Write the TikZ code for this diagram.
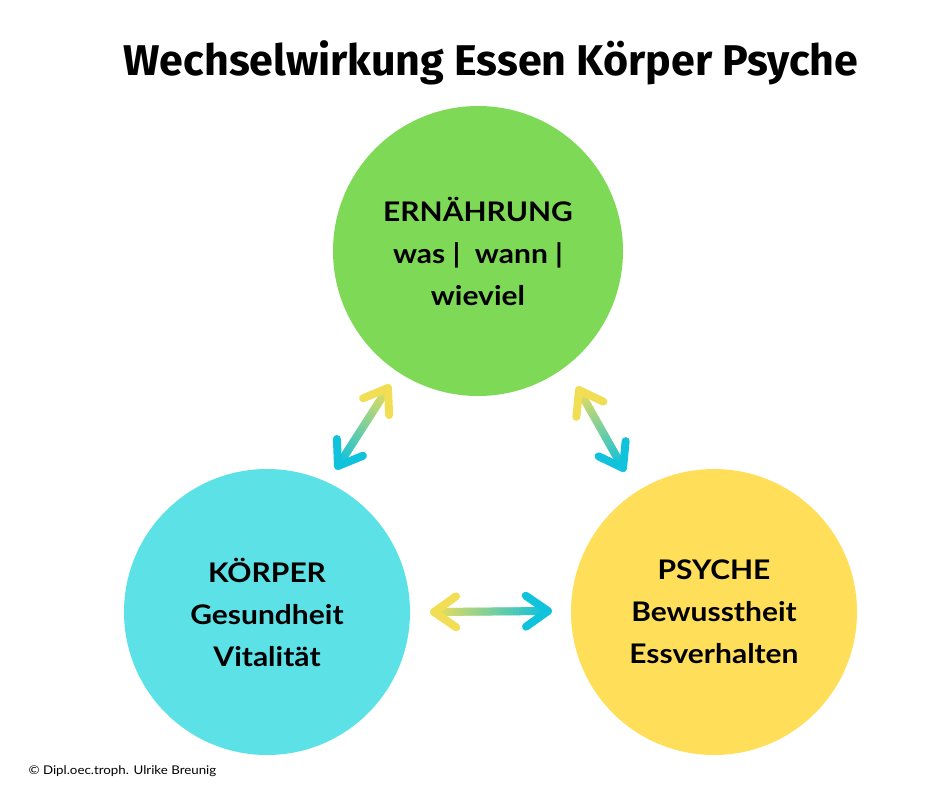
\documentclass[tikz,border=0pt]{standalone}
\usepackage{fontspec}
\setmainfont{Lato}[FakeStretch=1.11]
\newfontfamily\titlefont{Fira Sans}
\usetikzlibrary{calc}
\definecolor{ergreen}{HTML}{7ED957}
\definecolor{kocyan}{HTML}{5CE1E6}
\definecolor{psyellow}{HTML}{FFDE59}
\definecolor{arryellow}{HTML}{F2DE55}
\definecolor{arrcyan}{HTML}{10C2DC}

% gradient double arrow: #1 = yellow end, #2 = cyan end
\newcommand{\gradarrow}[2]{%
  \foreach \i in {0,...,39}{%
    \pgfmathtruncatemacro\p{100*\i/39}
    \draw[arrline, draw=arrcyan!\p!arryellow]
      ($(#1)!\i/40!(#2)$) -- ($(#1)!\i/40+1/40!(#2)$);
  }
  \draw[arrline, draw=arryellow] ($(#1)!27pt!35:(#2)$) -- (#1) -- ($(#1)!27pt!-35:(#2)$);
  \draw[arrline, draw=arrcyan] ($(#2)!27pt!35:(#1)$) -- (#2) -- ($(#2)!27pt!-35:(#1)$);
}

\begin{document}
\begin{tikzpicture}[x=1pt,y=-1pt,
  bubble/.style={circle, fill=#1, minimum size=290pt, inner sep=0pt,
    align=center, font=\fontsize{27}{42}\selectfont\bfseries},
  arrline/.style={line width=8pt, line cap=round, line join=round}]

 \fill[white] (0,0) rectangle (940,788);
 \useasboundingbox (0,0) rectangle (940,788);

 \node[font=\titlefont\fontsize{43}{50}\selectfont\bfseries] (title) at (491,63)
   {Wechselwirkung Essen Körper Psyche};

 \node[bubble=ergreen] (ern) at (478,251) {ERNÄHRUNG\\was |~ wann |\\wieviel};
 \node[bubble=kocyan, minimum size=286pt] (koe) at (267,612) {KÖRPER\\Gesundheit\\Vitalität};
 \node[bubble=psyellow, minimum size=286pt] (psy) at (714,612) {PSYCHE\\Bewusstheit\\Essverhalten};

 % arrow ends
 \coordinate (ek1) at (388,388);
 \coordinate (ek2) at (338,466);
 \coordinate (ep1) at (579,390);
 \coordinate (ep2) at (623,468);
 \coordinate (kp1) at (434,612);
 \coordinate (kp2) at (548,611);

 \gradarrow{ek1}{ek2}
 \gradarrow{ep1}{ep2}
 \gradarrow{kp1}{kp2}

 \node[anchor=west, font=\fontsize{12}{14}\selectfont] (copy) at (25,771)
   {© Dipl.oec.troph. Ulrike Breunig};

\end{tikzpicture}
\end{document}
